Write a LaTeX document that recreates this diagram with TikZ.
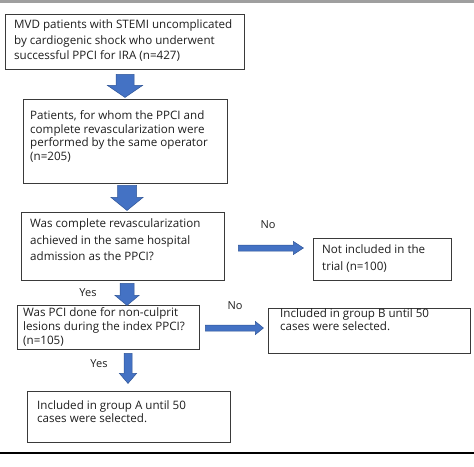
\documentclass[tikz,border=0pt]{standalone}
\usepackage{fontspec}
\setmainfont{Open Sans}
\begin{document}
\begin{tikzpicture}[x=1pt,y=-1pt]
\definecolor{arrowblue}{HTML}{4472C4}
\definecolor{arrowedge}{HTML}{2F5597}
\definecolor{boxedge}{HTML}{3A3A3A}
\definecolor{txtcol}{HTML}{1E1E1E}
\tikzset{
  box/.style={draw=boxedge, line width=0.9pt, fill=white, inner sep=0pt},
  txt/.style={anchor=north west, align=left, inner sep=0pt, text=txtcol,
     font=\fontsize{11.6}{#1}\selectfont},
  txt/.default=14,
  lbl/.style={inner sep=0pt, text=txtcol, font=\fontsize{11}{12}\selectfont},
  barrow/.style={fill=arrowblue, draw=arrowedge, line width=0.5pt, line join=miter},
}
\useasboundingbox (0,0) rectangle (474,466);
\fill[gray!75] (0,0) rectangle (474,2.5);
% boxes
\node[box, minimum width=239, minimum height=55] (b1) at (124.5,41.5) {};
\node[box, minimum width=204, minimum height=84] (b2) at (125,141) {};
\node[box, minimum width=203, minimum height=68] (b3) at (122.5,246) {};
\node[box, minimum width=138, minimum height=42] (b4) at (382,259) {};
\node[box, minimum width=182, minimum height=44] (b5) at (108,327) {};
\node[box, minimum width=202, minimum height=45] (b6) at (369,330.5) {};
\node[box, minimum width=203, minimum height=51] (b7) at (128.5,416.5) {};
% texts
\node[txt=15.6] (t1) at (14,19.5) {MVD patients with STEMI uncomplicated\\by cardiogenic shock who underwent\\successful PPCI for IRA (n=427)};
\node[txt=13.6] (t2) at (30,110.5) {Patients, for whom the PPCI and\\complete revascularization were\\performed by the same operator\\(n=205)};
\node[txt=16.5] (t3) at (30,218.5) {Was complete revascularization\\achieved in the same hospital\\admission as the PPCI?};
\node[txt=16.5] (t4) at (322,244.5) {Not included in the\\trial (n=100)};
\node[txt=13.8] (t5) at (23,307.5) {Was PCI done for non-culprit\\lesions during the index PPCI?\\(n=105)};
\node[txt=12.5] (t6) at (280,308.5) {Included in group B until 50\\cases were selected.};
\node[txt=13] (t7) at (37,400.5) {Included in group A until 50\\cases were selected.};
% labels
\node[lbl] (no1) at (268,225) {No};
\node[lbl] (yes1) at (88,293) {Yes};
\node[lbl] (no2) at (235,306) {No};
\node[lbl] (yes2) at (99,364) {Yes};
% block arrows
\filldraw[barrow] ([xshift=0.5pt]b1.south) ++(-9,5) -- ++(0,11) -- ++(-8.5,0) -- ++(17.5,12) -- ++(17.5,-12) -- ++(-8.5,0) -- ++(0,-11) -- cycle;
\filldraw[barrow] ([xshift=2pt]b2.south) ++(-9.5,2) -- ++(0,12) -- ++(-6.5,0) -- ++(16,13) -- ++(16,-13) -- ++(-6.5,0) -- ++(0,-12) -- cycle;
\filldraw[barrow] ([xshift=4.5pt]b3.south) ++(-7,3) -- ++(0,12) -- ++(-5,0) -- ++(12,10) -- ++(12,-10) -- ++(-5,0) -- ++(0,-12) -- cycle;
\filldraw[barrow] ([xshift=20pt]b5.south) ++(-4,4) -- ++(0,20) -- ++(-4.5,0) -- ++(8.5,10) -- ++(8.5,-10) -- ++(-4.5,0) -- ++(0,-20) -- cycle;
\filldraw[barrow] ([yshift=-2pt]b3.east) ++(14,-3) -- ++(55,0) -- ++(0,-3.5) -- ++(10,6.5) -- ++(-10,6.5) -- ++(0,-3.5) -- ++(-55,0) -- cycle;
\filldraw[barrow] ([yshift=-1pt]b5.east) ++(6,-3) -- ++(50,0) -- ++(0,-3.5) -- ++(8,6.5) -- ++(-8,6.5) -- ++(0,-3.5) -- ++(-50,0) -- cycle;
% bottom rule
\draw[line width=1.6pt, black] (0,453) -- (474,453);
\end{tikzpicture}
\end{document}
